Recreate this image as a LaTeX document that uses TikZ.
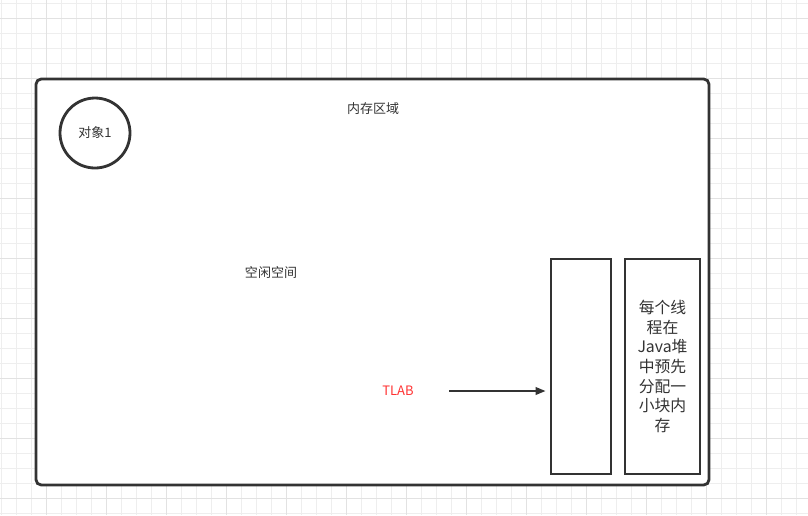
\documentclass[tikz,border=0pt]{standalone}
\usepackage{fontspec}
\usepackage{tikz}
\usetikzlibrary{arrows.meta}
\newfontfamily\cjk{Noto Sans CJK SC}
\definecolor{ink}{HTML}{333333}
\definecolor{gridlight}{HTML}{EEEEEE}
\definecolor{griddark}{HTML}{E2E2E2}
\definecolor{tlabred}{HTML}{FF3333}
\tikzset{
	box/.style={draw=ink,line width=1.6pt,minimum width=60*0.02cm,minimum height=215*0.02cm,inner sep=0pt},
	label/.style={text=ink,font=\cjk\fontsize{7.4}{8.4}\selectfont,inner sep=0pt},
}

\begin{document}
\begin{tikzpicture}[x=0.02cm,y=-0.02cm]
		\useasboundingbox (0,0) rectangle (808,515);
		\fill[white] (0,0) rectangle (808,515);
		% grid
		\foreach \gx in {1.5,16.5,...,808} {\draw[gridlight,line width=0.5pt] (\gx,0) -- (\gx,515);}
		\foreach \gy in {3,18,...,515} {\draw[gridlight,line width=0.5pt] (0,\gy) -- (808,\gy);}
		\foreach \gx in {46.5,106.5,...,808} {\draw[griddark,line width=0.5pt] (\gx,0) -- (\gx,515);}
		\foreach \gy in {18,78,...,515} {\draw[griddark,line width=0.5pt] (0,\gy) -- (808,\gy);}
		% memory area
		\draw[ink,fill=white,line width=1.6pt,rounded corners=3] (36,79) rectangle (709,485);
		\node[label] (area) at (373,109) {内存区域};
		\node[draw=ink,line width=1.6pt,circle,minimum size=70*0.02cm,label] (obj1) at (95,133) {对象1};
		\node[label] (free) at (271,273) {空闲空间};
		\node[box] (tlabbox) at (581,366.5) {};
		\node[box,minimum width=75*0.02cm,align=center,text=ink,font=\cjk\fontsize{9}{11.2}\selectfont] (desc) at (662.5,366.5) {每个线\\程在\\Java堆\\中预先\\分配一\\小块内\\存};
		\node[label,text=tlabred] (tlab) at (398,391) {TLAB};
		\coordinate (tlabstart) at (449,391);
		\draw[ink,line width=1.2pt,-{Triangle[length=2mm,width=1.5mm]},shorten >=4*0.02cm] (tlabstart) to (tlabbox.west |- tlabstart);
	\end{tikzpicture}
\end{document}
